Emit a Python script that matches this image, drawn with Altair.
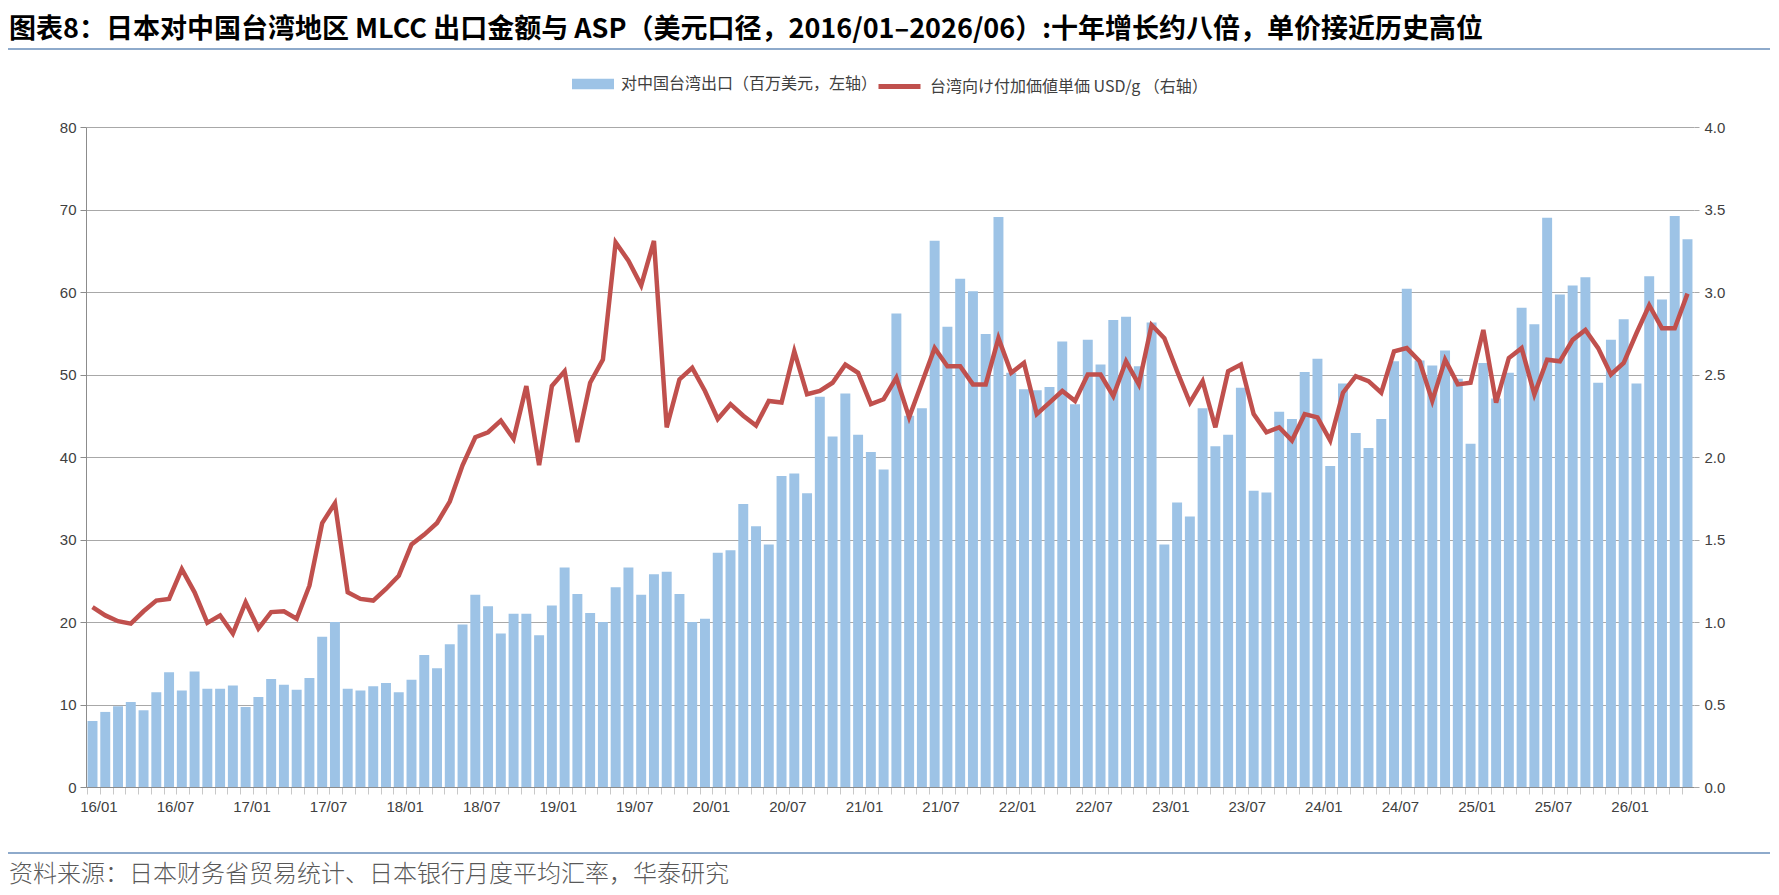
import altair as alt
import pandas as pd

# months 2016/01 .. 2026/06
months = [f"{y}/{m:02d}" for y in range(16, 27) for m in range(1, 13)][:126]

# exports to Taiwan, million USD (left axis)
exp_2016 = [8.0, 9.1, 9.8, 10.3, 9.3, 11.5, 13.9, 11.7, 14.0, 11.9, 11.9, 12.3]
exp_2017 = [9.7, 10.9, 13.1, 12.4, 11.8, 13.2, 18.2, 20.0, 11.9, 11.7, 12.2, 12.6]
exp_2018 = [11.5, 13.0, 16.0, 14.4, 17.3, 19.7, 23.3, 21.9, 18.6, 21.0, 21.0, 18.4]
exp_2019 = [22.0, 26.6, 23.4, 21.1, 20.0, 24.2, 26.6, 23.3, 25.8, 26.1, 23.4, 20.0]
exp_2020 = [20.4, 28.4, 28.7, 34.3, 31.6, 29.4, 37.7, 38.0, 35.6, 47.3, 42.5, 47.7]
exp_2021 = [42.7, 40.6, 38.5, 57.4, 45.0, 45.9, 66.2, 55.8, 61.6, 60.1, 54.9, 69.1]
exp_2022 = [50.2, 48.2, 48.1, 48.5, 54.0, 46.4, 54.2, 51.2, 56.6, 57.0, 51.0, 56.3]
exp_2023 = [29.4, 34.5, 32.8, 45.9, 41.3, 42.7, 48.4, 35.9, 35.7, 45.5, 44.6, 50.3]
exp_2024 = [51.9, 38.9, 48.9, 42.9, 41.1, 44.6, 51.6, 60.4, 51.7, 51.1, 52.9, 49.5]
exp_2025 = [41.6, 51.4, 47.1, 50.2, 58.1, 56.1, 69.0, 59.7, 60.8, 61.8, 49.0, 54.2]
exp_2026 = [56.7, 48.9, 61.9, 59.1, 69.2, 66.4]
exports = (exp_2016 + exp_2017 + exp_2018 + exp_2019 + exp_2020 + exp_2021
           + exp_2022 + exp_2023 + exp_2024 + exp_2025 + exp_2026)

# unit value USD/g (right axis)
asp_2016 = [1.09, 1.04, 1.005, 0.99, 1.065, 1.13, 1.14, 1.32, 1.18, 0.995, 1.04, 0.93]
asp_2017 = [1.12, 0.96, 1.06, 1.065, 1.02, 1.22, 1.60, 1.72, 1.18, 1.14, 1.13, 1.20]
asp_2018 = [1.28, 1.47, 1.53, 1.60, 1.73, 1.95, 2.12, 2.15, 2.22, 2.11, 2.43, 1.95]
asp_2019 = [2.43, 2.52, 2.09, 2.45, 2.59, 3.30, 3.19, 3.04, 3.31, 2.18, 2.47, 2.54]
asp_2020 = [2.40, 2.23, 2.32, 2.25, 2.19, 2.34, 2.33, 2.64, 2.38, 2.40, 2.45, 2.56]
asp_2021 = [2.51, 2.32, 2.35, 2.48, 2.24, 2.45, 2.66, 2.55, 2.55, 2.44, 2.44, 2.72]
asp_2022 = [2.51, 2.57, 2.26, 2.33, 2.40, 2.34, 2.50, 2.50, 2.37, 2.58, 2.44, 2.80]
asp_2023 = [2.72, 2.52, 2.33, 2.46, 2.18, 2.52, 2.56, 2.26, 2.15, 2.18, 2.10, 2.26]
asp_2024 = [2.24, 2.10, 2.39, 2.49, 2.46, 2.39, 2.64, 2.66, 2.58, 2.34, 2.59, 2.44]
asp_2025 = [2.45, 2.77, 2.33, 2.60, 2.66, 2.38, 2.59, 2.58, 2.71, 2.77, 2.66, 2.50]
asp_2026 = [2.57, 2.75, 2.92, 2.78, 2.78, 2.99]
asp = (asp_2016 + asp_2017 + asp_2018 + asp_2019 + asp_2020 + asp_2021
       + asp_2022 + asp_2023 + asp_2024 + asp_2025 + asp_2026)

bar_name = "对中国台湾出口（百万美元，左轴）"
line_name = "台湾向け付加価値単価 USD/g （右轴）"
title_text = "图表8：日本对中国台湾地区 MLCC 出口金额与 ASP（美元口径，2016/01–2026/06）:十年增长约八倍，单价接近历史高位"
source_text = "资料来源：日本财务省贸易统计、日本银行月度平均汇率，华泰研究"

df = pd.DataFrame({"month": months, "export": exports, "asp": asp,
                   "s1": bar_name, "s2": line_name})
one = pd.DataFrame({"k": [0]})

W, H = 1608, 660
cjk = "Noto Sans CJK SC"

x_enc = alt.X(
    "month:N", sort=None, title=None,
    scale=alt.Scale(paddingInner=0.22, paddingOuter=0.12),
    axis=alt.Axis(
        labelExpr="(slice(datum.value, 3) == '01' || slice(datum.value, 3) == '07') ? datum.value : ''",
        labelAngle=0, labelOverlap=False, bandPosition=0, labelOffset=6.4,
        tickSize=7, tickColor="#c8c8c8", domainColor="#8c8c8c",
        labelPadding=5, grid=False,
    ),
)

bars = alt.Chart(df).mark_bar().encode(
    x=x_enc,
    y=alt.Y("export:Q", title=None,
            scale=alt.Scale(domain=[0, 80], nice=False),
            axis=alt.Axis(orient="left", values=list(range(0, 81, 10)), grid=True,
                          gridColor="#a8a8a8", domainColor="#8c8c8c",
                          tickColor="#8c8c8c", tickSize=6, labelPadding=4)),
    color=alt.Color("s1:N", scale=alt.Scale(domain=[bar_name], range=["#9DC3E6"]),
                    legend=alt.Legend(title=None, orient="none", legendX=486, legendY=-64,
                                      symbolType="M-1,-0.25H1V0.25H-1Z", symbolSize=1764,
                                      symbolStrokeWidth=0, labelOffset=7, padding=0)),
)

line = alt.Chart(df).mark_line(strokeWidth=4.5).encode(
    x=x_enc,
    y=alt.Y("asp:Q", title=None,
            scale=alt.Scale(domain=[0, 4], nice=False),
            axis=alt.Axis(orient="right", values=[i * 0.5 for i in range(9)], format=".1f",
                          grid=False, domain=False, tickColor="#a8a8a8", tickSize=5,
                          labelPadding=5)),
    stroke=alt.Stroke("s2:N", scale=alt.Scale(domain=[line_name], range=["#C0504D"]),
                      legend=alt.Legend(title=None, orient="none", legendX=790, legendY=-64,
                                        symbolType="stroke", symbolSize=1764,
                                        symbolStrokeWidth=5, labelOffset=7, padding=0)),
)

title = alt.Chart(one).mark_text(
    align="left", baseline="middle", fontSize=27, fontWeight="bold", font=cjk, color="#000000"
).encode(x=alt.value(-77), y=alt.value(-97), text=alt.value(title_text))

title_rule = alt.Chart(one).mark_rule(color="#8EAACB", strokeWidth=2).encode(
    x=alt.value(-78), x2=alt.value(1684), y=alt.value(-78))

source_rule = alt.Chart(one).mark_rule(color="#8EAACB", strokeWidth=2).encode(
    x=alt.value(-78), x2=alt.value(1684), y=alt.value(726))

source = alt.Chart(one).mark_text(
    align="left", baseline="middle", fontSize=24, fontWeight=300, font=cjk, color="#595959"
).encode(x=alt.value(-77), y=alt.value(748), text=alt.value(source_text))

chart = (
    alt.layer(bars, line, title, title_rule, source_rule, source)
    .resolve_scale(y="independent")
    .properties(width=W, height=H,
                autosize=alt.AutoSizeParams(type="none"),
                padding={"left": 78, "top": 119, "right": 77, "bottom": 101})
    .configure_view(stroke=None)
    .configure_axis(labelFont="Liberation Sans", labelFontSize=15, labelColor="#404040")
    .configure_legend(labelFont=cjk, labelFontSize=16, labelColor="#404040", labelLimit=400)
)

chart.save("out.html", embed_options={"renderer": "svg", "actions": False})
